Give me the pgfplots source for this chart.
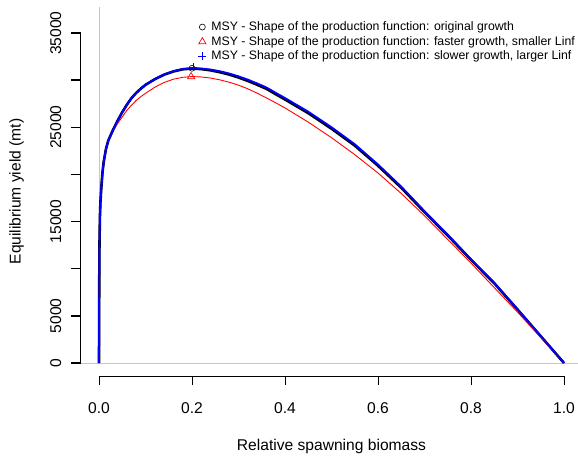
\documentclass[border=0pt]{standalone}
\usepackage{fontspec}
\setmainfont{Liberation Sans}
\usepackage{pgfplots}
\pgfplotsset{compat=1.18}

\definecolor{rblue}{RGB}{0,0,255}
\definecolor{rred}{RGB}{255,0,0}
\definecolor{rgrey}{RGB}{198,198,198}

% relative spawning biomass vs equilibrium yield (mt)
\pgfplotstableread{
x       orig    fast    slow
0       0       0       0
0.0005  8000    8000    8000
0.001   12500   12500   12500
0.002   15500   15500   15500
0.003   17000   17000   17000
0.005   18600   18600   18600
0.0075  20200   20200   20200
0.01    21300   21300   21300
0.015   22700   22700   22700
0.02    23600   23500   23600
0.03    24700   24600   24700
0.04    25700   25400   25700
0.05    26600   26100   26600
0.06    27400   26800   27400
0.07    28100   27350   28100
0.08    28650   27850   28650
0.09    29100   28250   29100
0.1     29500   28600   29500
0.12    30100   29250   30100
0.14    30580   29750   30600
0.16    30920   30100   30950
0.18    31150   30300   31180
0.2     31230   30380   31260
0.22    31170   30340   31230
0.24    31040   30220   31120
0.26    30840   30030   30940
0.28    30590   29780   30700
0.3     30280   29470   30400
0.32    29920   29080   30050
0.34    29510   28620   29650
0.36    29080   28120   29220
0.38    28510   27600   28650
0.4     27950   27050   28100
0.45    26500   25550   26650
0.5     24850   23900   25000
0.55    23060   22100   23200
0.6     20920   20150   21050
0.65    18590   17980   18700
0.7     16000   15620   16100
0.75    13530   13100   13600
0.8     10940   10600   11000
0.85    8460    8000    8500
0.9     5670    5400    5700
0.95    2840    2700    2850
1       0       0       0
}\yieldtab

\begin{document}
\begin{tikzpicture}
\begin{axis}[
    scale only axis,
    width=502.2pt, height=369pt,
    xmin=-0.04, xmax=1.04,
    ymin=-1379, ymax=37758,
    clip=false,
    axis line style={draw=none},
    xtick pos=bottom, ytick pos=left,
    scaled ticks=false,
    tick align=outside,
    major tick length=9pt,
    tick style={black, line width=0.9pt},
    ytick style={draw=none},
    xtick={0,0.2,0.4,0.6,0.8,1},
    xticklabels={0.0,0.2,0.4,0.6,0.8,1.0},
    ytick={0,5000,10000,15000,20000,25000,30000,35000},
    yticklabels={0,5000,,15000,,25000,,35000},
    /pgf/number format/assume math mode=true,
    ticklabel style={font=\fontsize{15.6}{18}\selectfont, inner sep=0pt},
    xticklabel style={anchor=north, yshift=-17.5pt},
    yticklabel style={rotate=90, anchor=south, yshift=10pt},
    xlabel={Relative spawning biomass},
    ylabel={Equilibrium yield (mt)},
    label style={font=\fontsize{15.6}{18}\selectfont, inner sep=0pt},
    xlabel style={at={(axis description cs:0.5,0)}, anchor=center, yshift=-70.5pt},
    ylabel style={at={(axis description cs:0,0.5)}, anchor=center, yshift=63.9pt},
    legend style={draw=none, fill=none, at={(rel axis cs:0.2345,0.9625)}, anchor=north west,
        font=\fontsize{12.3}{14.7}\selectfont, inner sep=0pt, row sep=2.7pt,
        nodes={inner ysep=0pt, text height=9.5pt, text depth=2.5pt},
        /tikz/every odd column/.append style={column sep=3pt}},
    legend cell align=left,
]
\draw[rgrey, line width=0.9pt] (axis cs:-0.04,0) -- (axis cs:1.04,0);
\draw[rgrey, line width=0.9pt] (axis cs:0,0) -- (axis cs:0,37758);
\draw[black, line width=0.9pt] (axis cs:0,-1379) -- (axis cs:1,-1379);

\addplot[black, line width=2.6pt, no marks, forget plot] table[x=x, y=orig] {\yieldtab};
\addplot[rred, line width=0.9pt, no marks, forget plot] table[x=x, y=fast] {\yieldtab};
\addplot[rblue, line width=1.9pt, no marks, forget plot] table[x=x, y=slow] {\yieldtab};

\addplot[only marks, mark=o, mark size=3pt, black,
    mark options={draw=black, fill=none, line width=0.6pt}]
    coordinates {(0.2,31260)};
\addlegendentry{MSY - Shape of the production function: original growth}
\addplot[only marks, mark=triangle, mark size=4.2pt, rred,
    mark options={draw=rred, fill=none, line width=0.7pt}]
    coordinates {(0.198,30370)};
\addlegendentry{MSY - Shape of the production function: faster growth, smaller Linf}
\addplot[only marks, mark=+, mark size=4pt, rblue,
    mark options={draw=rblue, line width=0.7pt}]
    coordinates {(0.203,31400)};
\addlegendentry{MSY - Shape of the production function: slower growth, larger Linf}
\end{axis}
% left axis line (0 to 35000) with outward ticks every 5000
\draw[black, line width=1.4pt] (0pt,13pt) -- (0pt,343pt);
\foreach \k in {0,...,7}
    \draw[black, line width=1.4pt] (0.7pt,13pt+\k*47.143pt) -- ++(-9.7pt,0pt);
\pgfresetboundingbox
\path[use as bounding box] (-80.4pt,-80pt) rectangle (497.6pt,376pt);
\end{tikzpicture}
\end{document}
